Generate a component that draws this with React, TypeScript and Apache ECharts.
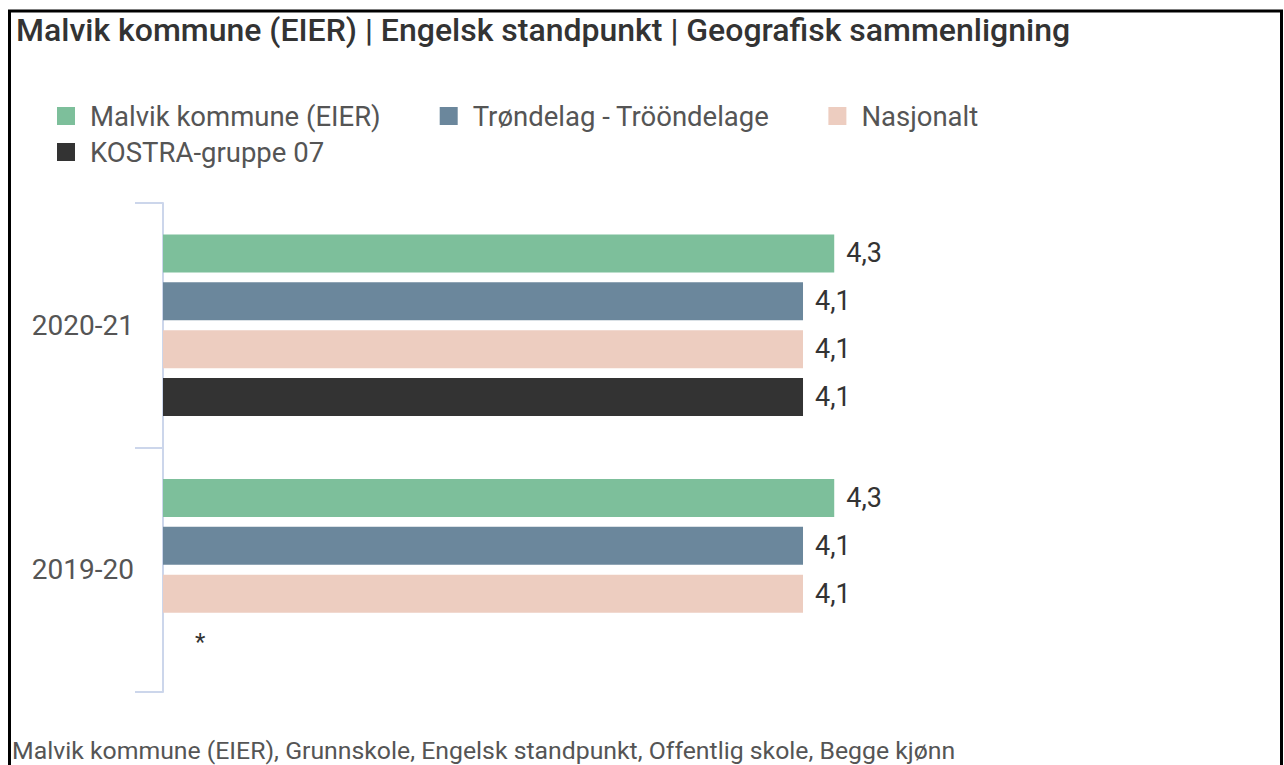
import React, { useEffect, useRef } from "react";
import * as echarts from "echarts";

const categories = ["2020-21", "2019-20"];
const seriesNames = [
  "Malvik kommune (EIER)",
  "Trøndelag - Trööndelage",
  "Nasjonalt",
  "KOSTRA-gruppe 07",
];
const malvik = [4.3, 4.3];
const trondelag = [4.1, 4.1];
const nasjonalt = [4.1, 4.1];
const kostra: (number | null)[] = [4.1, null];
const colors = ["#7dbf9b", "#6b879c", "#edcdc0", "#333333"];
const titleText = "Malvik kommune (EIER) | Engelsk standpunkt | Geografisk sammenligning";
const footerText = "Malvik kommune (EIER), Grunnskole, Engelsk standpunkt, Offentlig skole, Begge kjønn";

const FONT = "Roboto, 'Noto Sans', sans-serif";

export default function App() {
  const ref = useRef<HTMLDivElement>(null);
  useEffect(() => {
    if (!ref.current) return;
    const chart = echarts.init(ref.current, undefined, { renderer: "svg" });
    const fmt = (p: any) => String(p.value).replace(".", ",");
    const makeData = (arr: (number | null)[]) =>
      arr.map((v) =>
        v === null
          ? {
              value: 0,
              label: {
                show: true,
                formatter: "*",
                position: "right",
                distance: 32,
                fontSize: 24,
                color: "#333",
              },
            }
          : v
      );
    const all = [malvik, trondelag, nasjonalt, kostra];
    const legendText = { fontFamily: FONT, fontSize: 27.5, color: "#555", padding: [0, 0, 0, 10] };
    chart.setOption({
      animation: false,
      textStyle: { fontFamily: FONT },
      title: {
        text: titleText,
        left: 11,
        top: 9,
        textStyle: { fontFamily: FONT, fontSize: 32, fontWeight: 500, color: "#333" },
      },
      legend: [
        {
          data: seriesNames.slice(0, 3),
          left: 52,
          top: 97,
          icon: "rect",
          itemWidth: 18,
          itemHeight: 18,
          itemGap: 59,
          textStyle: legendText,
        },
        {
          data: seriesNames.slice(3),
          left: 52,
          top: 133,
          icon: "rect",
          itemWidth: 18,
          itemHeight: 18,
          textStyle: legendText,
        },
      ],
      grid: { left: 163, top: 203, width: 936.6, height: 489, containLabel: false },
      xAxis: { type: "value", min: 0, max: 6, show: false },
      yAxis: {
        type: "category",
        inverse: true,
        data: categories,
        axisLine: { show: true, lineStyle: { color: "#ccd6eb", width: 2 } },
        axisTick: { show: true, alignWithLabel: false, length: 28, lineStyle: { color: "#ccd6eb", width: 2 } },
        axisLabel: { margin: 29, fontSize: 28, color: "#555", fontFamily: FONT },
        splitLine: { show: false },
      },
      series: all.map((arr, i) => ({
        type: "bar",
        name: seriesNames[i],
        data: makeData(arr),
        barWidth: 38,
        barGap: "26%",
        itemStyle: { color: colors[i] },
        label: {
          show: true,
          position: "right",
          distance: 12,
          fontSize: 27,
          color: "#333",
          fontFamily: FONT,
          formatter: fmt,
        },
      })),
      graphic: [
        {
          type: "rect",
          shape: { x: 9.5, y: 11, width: 1272, height: 800 },
          style: { fill: "none", stroke: "#000", lineWidth: 3 },
          silent: true,
        },
        {
          type: "text",
          left: 12,
          top: 738,
          style: { text: footerText, fontSize: 24.8, fill: "#555", fontFamily: FONT },
        },
      ],
    });
    return () => chart.dispose();
  }, []);
  return (
    <div
      ref={ref}
      style={{ position: "absolute", left: 0, top: 0, width: 1284, height: 765, background: "#fff" }}
    />
  );
}
